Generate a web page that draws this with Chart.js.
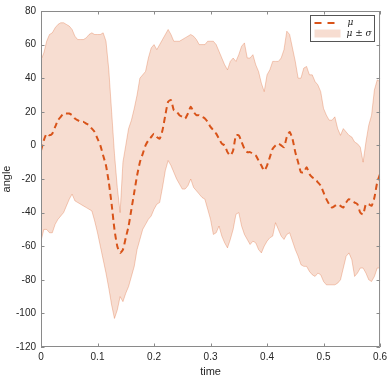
<!DOCTYPE html>
<html>
<head>
<meta charset="utf-8">
<script src="https://cdn.jsdelivr.net/npm/chart.js@4/dist/chart.umd.min.js"></script>
<style>
  html, body { margin: 0; padding: 0; background: #fff; }
  canvas { display: block; }
</style>
</head>
<body>
<canvas id="myChart" width="391" height="379"></canvas>
<script>
// time samples (every 0.005 s)
const tempo = [];
for (let i = 0; i <= 120; i++) tempo.push(+(i * 0.005).toFixed(3));

// mean curve (mu)
const media = [
  -3, 3, 7, 6, 7, 11, 15, 17, 19, 19, 19, 18, 16, 15, 14, 14, 13, 12, 10, 8,
  4, 0, -6, -12, -22, -35, -50, -60, -64, -62, -55, -48, -38, -28, -18, -10, -5, 0, 3, 5,
  7, 5, 4, 9, 18, 26, 27, 21, 20, 18, 17, 16, 19, 23, 20, 18, 18, 17, 16, 14,
  11, 9, 7, 4, 1, 0, -4, -6, -3, 6, 6, 2, -2, -4, -4, -5, -6, -9, -12, -15,
  -12, -7, -2, 0, 1, 0, -1, 5, 8, 4, -4, -10, -16, -16, -13, -17, -19, -20, -22, -24,
  -28, -32, -35, -37, -36, -35, -36, -37, -34, -32, -33, -34, -35, -40, -41, -35, -35, -36, -31, -22,
  -17
];

// upper bound (mu + sigma)
const superior = [
  51, 55, 62, 66, 67, 70, 72, 73, 73, 72, 71, 69, 65, 63, 63, 63, 64, 66, 67, 66,
  66, 66, 67, 62, 45, 20, -5, -25, -40, -10, 0, 10, 15, 22, 30, 40, 42, 44, 52, 58,
  60, 57, 60, 63, 66, 69, 66, 62, 62, 62, 63, 64, 65, 66, 65, 63, 60, 60, 60, 62,
  62, 62, 60, 56, 52, 48, 45, 50, 52, 50, 54, 59, 61, 52, 52, 54, 48, 44, 37, 32,
  42, 45, 50, 50, 50, 52, 57, 68, 66, 58, 50, 40, 40, 46, 47, 42, 42, 38, 36, 32,
  22, 18, 15, 15, 17, 10, 6, 10, 8, 6, 5, 2, 1, -1, -10, 2, 12, 18, 33, 39,
  38
];

// lower bound (mu - sigma)
const inferior = [
  -57, -50, -50, -52, -52, -47, -44, -42, -40, -36, -32, -29, -33, -34, -35, -36, -37, -38, -39, -45,
  -52, -60, -68, -76, -85, -95, -103, -98, -90, -93, -88, -84, -78, -72, -62, -56, -50, -47, -44, -42,
  -38, -35, -34, -25, -15, -9, -12, -16, -20, -23, -26, -26, -24, -20, -25, -27, -29, -31, -32, -38,
  -44, -53, -52, -48, -54, -58, -61, -56, -50, -41, -40, -48, -53, -56, -59, -57, -58, -62, -64, -60,
  -57, -55, -54, -46, -50, -54, -56, -53, -52, -57, -62, -66, -71, -72, -72, -75, -77, -78, -76, -77,
  -81, -83, -83, -83, -83, -82, -80, -73, -66, -64, -68, -78, -76, -73, -73, -76, -80, -81, -78, -73,
  -73
];

const ticksX = [0, 0.1, 0.2, 0.3, 0.4, 0.5, 0.6];
const ticksY = [-120, -100, -80, -60, -40, -20, 0, 20, 40, 60, 80];

const laranja = "#D95319";
const bandaFill = "rgba(217, 83, 25, 0.2)";
const bandaBorda = "rgba(217, 83, 25, 0.28)";

const pontos = (vals) => tempo.map((t, i) => ({ x: t, y: vals[i] }));

// moldura estilo MATLAB: caixa + ticks para dentro
const molduraPlugin = {
  id: "moldura",
  afterDatasetsDraw(chart) {
    const { ctx, chartArea: a, scales } = chart;
    ctx.save();
    ctx.strokeStyle = "#8a8a8a";
    ctx.lineWidth = 1;
    ctx.beginPath();
    ctx.rect(a.left + 0.5, a.top + 0.5, a.right - a.left - 1, a.bottom - a.top - 1);
    const tl = 3.5;
    ticksX.forEach(v => {
      const x = Math.round(scales.x.getPixelForValue(v)) + 0.5;
      ctx.moveTo(x, a.bottom); ctx.lineTo(x, a.bottom - tl);
      ctx.moveTo(x, a.top); ctx.lineTo(x, a.top + tl);
    });
    ticksY.forEach(v => {
      const y = Math.round(scales.y.getPixelForValue(v)) + 0.5;
      ctx.moveTo(a.left, y); ctx.lineTo(a.left + tl, y);
      ctx.moveTo(a.right, y); ctx.lineTo(a.right - tl, y);
    });
    ctx.stroke();

    // legenda no canto superior direito
    const bx = 310.5, by = 15.5, bw = 64, bh = 26;
    ctx.fillStyle = "#fff";
    ctx.fillRect(bx, by, bw, bh);
    ctx.strokeStyle = "#555";
    ctx.strokeRect(bx, by, bw, bh);
    ctx.strokeStyle = laranja;
    ctx.lineWidth = 2;
    ctx.setLineDash([7, 6]);
    ctx.beginPath();
    ctx.moveTo(bx + 4, by + 7.5); ctx.lineTo(bx + 29, by + 7.5);
    ctx.stroke();
    ctx.setLineDash([]);
    ctx.fillStyle = bandaFill;
    ctx.fillRect(bx + 4, by + 14, 26, 8);
    ctx.fillStyle = "#222";
    ctx.font = "italic 9px 'DejaVu Serif', serif";
    ctx.textBaseline = "middle";
    ctx.textAlign = "left";
    ctx.fillText("\u03bc", bx + 37, by + 7.5);
    ctx.fillText("\u03bc \u00b1 \u03c3", bx + 36, by + 18);
    ctx.restore();
  }
};

const config = {
  type: "line",
  data: {
    datasets: [
      {
        label: "upper",
        data: pontos(superior),
        borderColor: bandaBorda,
        borderWidth: 1,
        backgroundColor: bandaFill,
        pointRadius: 0,
        fill: "+1",
        tension: 0
      },
      {
        label: "lower",
        data: pontos(inferior),
        borderColor: bandaBorda,
        borderWidth: 1,
        pointRadius: 0,
        fill: false,
        tension: 0
      },
      {
        label: "mu",
        data: pontos(media),
        borderColor: laranja,
        borderWidth: 2,
        borderDash: [6, 4],
        pointRadius: 0,
        fill: false,
        tension: 0.2
      }
    ]
  },
  options: {
    responsive: false,
    animation: false,
    layout: { padding: { top: 8, right: 10, left: 0, bottom: 0 } },
    plugins: {
      legend: { display: false },
      tooltip: { enabled: false }
    },
    scales: {
      x: {
        type: "linear",
        min: 0,
        max: 0.6,
        grid: { display: false, drawTicks: false },
        border: { display: false },
        afterBuildTicks: (s) => { s.ticks = ticksX.map(v => ({ value: v })); },
        afterFit: (s) => { s.height = 32; },
        ticks: {
          padding: 4,
          color: "#262626",
          font: { family: "'Liberation Sans', Arial, sans-serif", size: 10 },
          callback: (v) => String(v)
        },
        title: {
          display: true,
          text: "time",
          color: "#262626",
          padding: { top: 0, bottom: 0 },
          font: { family: "'Liberation Sans', Arial, sans-serif", size: 11 }
        }
      },
      y: {
        min: -120,
        max: 80,
        grid: { display: false, drawTicks: false },
        border: { display: false },
        afterBuildTicks: (s) => { s.ticks = ticksY.map(v => ({ value: v })); },
        afterFit: (s) => { s.width = 41; },
        ticks: {
          padding: 5,
          color: "#262626",
          font: { family: "'Liberation Sans', Arial, sans-serif", size: 10 }
        },
        title: {
          display: true,
          text: "angle",
          color: "#262626",
          padding: { top: 0, bottom: 0 },
          font: { family: "'Liberation Sans', Arial, sans-serif", size: 11 }
        }
      }
    }
  },
  plugins: [molduraPlugin]
};

const ctx = document.getElementById("myChart").getContext("2d");
new Chart(ctx, config);
</script>
</body>
</html>
